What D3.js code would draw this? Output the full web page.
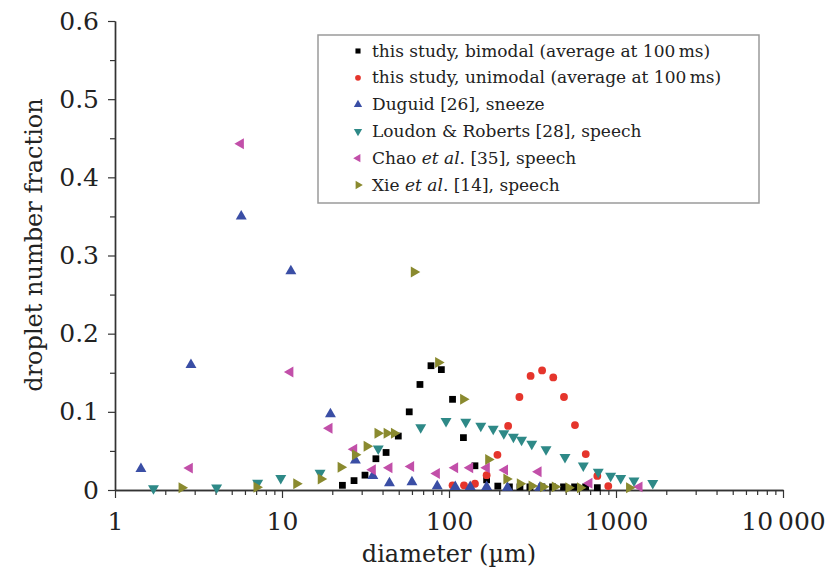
<!DOCTYPE html>
<html><head><meta charset="utf-8">
<script src="https://cdn.jsdelivr.net/npm/d3@7"></script>
<style>body{margin:0;background:#fff}svg{display:block}
svg text{font-family:"DejaVu Serif","Liberation Serif",serif !important;fill:#222}</style>
</head><body>
<svg id="c" width="827" height="569"></svg>
<script>
// ---- data ----
const bimodalD = [23, 27, 31.4, 36.5, 42, 49.7, 57.8, 67, 78, 90, 105, 122, 143, 168, 196, 230, 266, 305, 360, 417, 485, 565, 658, 773];
const bimodalF = [0.006, 0.012, 0.019, 0.040, 0.048, 0.069, 0.100, 0.135, 0.159, 0.154, 0.116, 0.067, 0.031, 0.013, 0.005, 0.004, 0.004, 0.004, 0.004, 0.004, 0.004, 0.004, 0.004, 0.003];
const unimodalD = [105, 123, 143, 168, 195, 226, 264, 308, 361, 421, 488, 568, 659, 773, 899];
const unimodalF = [0.006, 0.006, 0.008, 0.019, 0.045, 0.082, 0.119, 0.146, 0.153, 0.144, 0.119, 0.083, 0.046, 0.018, 0.005];
const duguidD = [1.43, 2.85, 5.7, 11.3, 19.5, 27.5, 35, 44, 60, 85, 109, 134, 168, 224, 350];
const duguidF = [0.027, 0.160, 0.350, 0.280, 0.097, 0.038, 0.018, 0.009, 0.010, 0.005, 0.004, 0.004, 0.004, 0.003, 0.003];
const loudonD = [1.7, 4.06, 7.15, 9.83, 16.9, 37.7, 67.7, 96, 126, 155, 184, 213, 243, 272, 313, 381, 495, 637, 783, 929, 1067, 1282, 1660];
const loudonF = [0.002, 0.003, 0.009, 0.015, 0.022, 0.053, 0.080, 0.088, 0.087, 0.082, 0.078, 0.0725, 0.068, 0.064, 0.059, 0.052, 0.042, 0.031, 0.023, 0.018, 0.015, 0.012, 0.0086];
const chaoD = [2.8, 5.66, 11.2, 19.2, 27, 34.9, 43.9, 59.2, 84.4, 108.6, 133.6, 168, 216, 343, 692, 1380];
const chaoF = [0.028, 0.443, 0.151, 0.079, 0.052, 0.026, 0.0285, 0.030, 0.021, 0.0285, 0.0285, 0.0285, 0.0256, 0.0234, 0.0086, 0.004];
const xieD = [2.51, 7.05, 12.2, 17.1, 22.5, 27.4, 32.2, 37.4, 42.4, 46.9, 61.7, 86.3, 121.8, 172, 221, 266, 313, 367, 431, 520, 610, 1200];
const xieF = [0.003, 0.0035, 0.008, 0.014, 0.029, 0.045, 0.056, 0.0725, 0.0725, 0.0725, 0.279, 0.163, 0.116, 0.039, 0.014, 0.008, 0.005, 0.004, 0.004, 0.003, 0.003, 0.003];

const xTickValues = [1, 10, 100, 1000, 10000];
const xTickLabels = ["1", "10", "100", "1000", "10\u2009000"];
const yTickValues = [0, 0.1, 0.2, 0.3, 0.4, 0.5, 0.6];
const yTickLabels = ["0", "0.1", "0.2", "0.3", "0.4", "0.5", "0.6"];

const legendLabels = [
  [["this study, bimodal (average at 100\u2009ms)", false]],
  [["this study, unimodal (average at 100\u2009ms)", false]],
  [["Duguid [26], sneeze", false]],
  [["Loudon & Roberts [28], speech", false]],
  [["Chao ", false], ["et al", true], [". [35], speech", false]],
  [["Xie ", false], ["et al", true], [". [14], speech", false]]
];

// ---- chart ----
const SERIF = '"DejaVu Serif","Liberation Serif",serif';
const svg = d3.select("#c");
const x = d3.scaleLog().domain([1, 10000]).range([115, 783]);
const y = d3.scaleLinear().domain([0, 0.6]).range([490, 21]);

const series = [
  {d: bimodalD, f: bimodalF, shape: d3.symbolSquare, size: 46, rot: 0, color: "#000000"},
  {d: unimodalD, f: unimodalF, shape: d3.symbolCircle, size: 48, rot: 0, color: "#e5352c"},
  {d: duguidD, f: duguidF, shape: d3.symbolTriangle, size: 52, rot: 0, color: "#3a4ea5"},
  {d: loudonD, f: loudonF, shape: d3.symbolTriangle, size: 52, rot: 180, color: "#2e8987"},
  {d: chaoD, f: chaoF, shape: d3.symbolTriangle, size: 52, rot: -90, color: "#c24fa9"},
  {d: xieD, f: xieF, shape: d3.symbolTriangle, size: 52, rot: 90, color: "#8a8a2f"}
];

// axes
const minorX = [];
for (let e = 0; e < 4; e++) for (let m = 2; m <= 9; m++) minorX.push(m * Math.pow(10, e));
const gx = svg.append("g").attr("transform", "translate(0,490)");
gx.call(d3.axisBottom(x).tickValues(minorX).tickSize(5).tickFormat("").tickSizeOuter(0));
gx.append("g").call(d3.axisBottom(x).tickValues(xTickValues).tickSize(8).tickSizeOuter(0)
  .tickFormat((d, i) => xTickLabels[i]));
gx.selectAll("path.domain").attr("stroke", "#333").attr("stroke-width", 1.4);
gx.selectAll("line").attr("stroke", "#333").attr("stroke-width", 1.2);
gx.selectAll("text").attr("font-size", 25).attr("fill", "#222").attr("y", 40).attr("dy", 0)
  .style("font-family", SERIF);

const minorY = [0.05, 0.15, 0.25, 0.35, 0.45, 0.55];
const gy = svg.append("g").attr("transform", "translate(115,0)");
gy.call(d3.axisLeft(y).tickValues(minorY).tickSize(5).tickFormat("").tickSizeOuter(0));
gy.append("g").call(d3.axisLeft(y).tickValues(yTickValues).tickSize(7).tickSizeOuter(0)
  .tickPadding(9).tickFormat((d, i) => yTickLabels[i]));
gy.selectAll("path.domain").attr("stroke", "#333").attr("stroke-width", 1.4);
gy.selectAll("line").attr("stroke", "#333").attr("stroke-width", 1.2);
gy.selectAll("text").attr("font-size", 25).attr("fill", "#222").style("font-family", SERIF);

// axis titles
svg.append("text").attr("x", 449).attr("y", 562).attr("text-anchor", "middle")
  .attr("font-size", 24).style("font-family", SERIF).text("diameter (\u00b5m)");
svg.append("text").attr("transform", "translate(42,245) rotate(-90)").attr("text-anchor", "middle")
  .attr("font-size", 24).style("font-family", SERIF).text("droplet number fraction");

// points
series.forEach(s => {
  const sym = d3.symbol().type(s.shape).size(s.size);
  svg.append("g").selectAll("path").data(s.d.map((d, i) => [d, s.f[i]])).join("path")
    .attr("d", sym)
    .attr("transform", p => `translate(${x(p[0])},${y(p[1])}) rotate(${s.rot})`)
    .attr("fill", s.color);
});

// legend
const lg = svg.append("g");
lg.append("rect").attr("x", 318).attr("y", 35).attr("width", 441).attr("height", 168)
  .attr("fill", "#fff").attr("stroke", "#9a9a9a").attr("stroke-width", 1.5);
series.forEach((s, i) => {
  const cy = 50 + i * 26.8;
  const sizeL = s.shape === d3.symbolTriangle ? 30 : 26;
  lg.append("path").attr("d", d3.symbol().type(s.shape).size(sizeL))
    .attr("transform", `translate(358,${cy + 1}) rotate(${s.rot})`).attr("fill", s.color);
  const t = lg.append("text").attr("x", 372).attr("y", cy + 6.5).attr("font-size", 17)
    .style("font-family", SERIF);
  legendLabels[i].forEach(part => {
    t.append("tspan").attr("font-style", part[1] ? "italic" : "normal").text(part[0]);
  });
});
</script>
</body></html>
